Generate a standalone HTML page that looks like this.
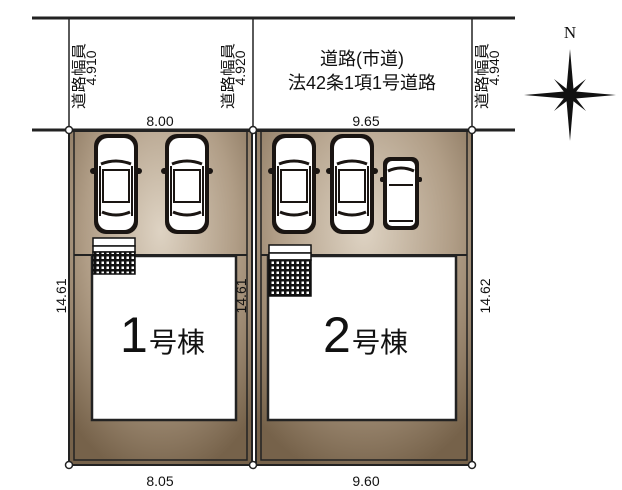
<!DOCTYPE html>
<html><head><meta charset="utf-8"><style>
html,body{margin:0;padding:0;background:#fff;width:622px;height:490px;overflow:hidden}
text{font-family:"Liberation Sans","Noto Sans CJK JP",sans-serif;fill:#111}
</style></head><body>
<svg width="622" height="490" viewBox="0 0 622 490" xmlns="http://www.w3.org/2000/svg">
<defs>
<radialGradient id="g1" cx="50%" cy="30%" r="75%">
<stop offset="0" stop-color="#ded3c3"/><stop offset="0.55" stop-color="#b09d86"/><stop offset="1" stop-color="#76624a"/>
</radialGradient>
<g id="car">
<rect x="0" y="0" width="44" height="100" rx="12" fill="#1a1512"/>
<rect x="-4" y="34" width="52" height="6" rx="3" fill="#1a1512"/>
<rect x="4" y="4" width="36" height="92" rx="10" fill="#fff"/>
<path d="M7 30 Q22 24 37 30" stroke="#1a1512" stroke-width="3" fill="none"/>
<path d="M9 36 L35 36 L35 68 L9 68 Z" stroke="#1a1512" stroke-width="2" fill="#fff"/>
<path d="M8 78 Q22 84 36 78" stroke="#1a1512" stroke-width="3" fill="none"/>
<line x1="6" y1="32" x2="6" y2="82" stroke="#1a1512" stroke-width="2"/>
<line x1="38" y1="32" x2="38" y2="82" stroke="#1a1512" stroke-width="2"/>
</g>
<pattern id="grid" width="5" height="5" patternUnits="userSpaceOnUse">
<rect width="5" height="5" fill="#111"/><rect x="1.5" y="1.5" width="2.5" height="2.5" fill="#fff"/>
</pattern>
</defs>
<line x1="32" y1="18" x2="515" y2="18" stroke="#222" stroke-width="3"/>
<line x1="32" y1="130" x2="515" y2="130" stroke="#222" stroke-width="3"/>
<line x1="69" y1="18" x2="69" y2="130" stroke="#222" stroke-width="1.5"/>
<line x1="253" y1="18" x2="253" y2="130" stroke="#222" stroke-width="1.5"/>
<line x1="472" y1="18" x2="472" y2="130" stroke="#222" stroke-width="1.5"/>
<rect x="69" y="131" width="183" height="334" fill="url(#g1)" stroke="#222" stroke-width="2"/>
<rect x="74" y="131" width="173" height="329" fill="none" stroke="#222" stroke-width="1.5"/>
<rect x="256" y="131" width="216" height="334" fill="url(#g1)" stroke="#222" stroke-width="2"/>
<rect x="261" y="131" width="206" height="329" fill="none" stroke="#222" stroke-width="1.5"/>
<line x1="74" y1="255" x2="247" y2="255" stroke="#222" stroke-width="2"/>
<line x1="261" y1="255" x2="467" y2="255" stroke="#222" stroke-width="2"/>
<rect x="92" y="256" width="144" height="164" fill="#fff" stroke="#222" stroke-width="2.5"/>
<rect x="268" y="256" width="188" height="164" fill="#fff" stroke="#222" stroke-width="2.5"/>
<rect x="93" y="238" width="42" height="8" fill="#fff" stroke="#111" stroke-width="1.5"/>
<rect x="93" y="246" width="42" height="6" fill="#fff" stroke="#111" stroke-width="1.5"/>
<rect x="93" y="252" width="42" height="22" fill="url(#grid)" stroke="#111" stroke-width="1.5"/>
<rect x="269" y="245" width="42" height="8" fill="#fff" stroke="#111" stroke-width="1.5"/>
<rect x="269" y="253" width="42" height="7" fill="#fff" stroke="#111" stroke-width="1.5"/>
<rect x="269" y="260" width="42" height="36" fill="url(#grid)" stroke="#111" stroke-width="1.5"/>
<use href="#car" x="94" y="134"/>
<use href="#car" x="165" y="134"/>
<use href="#car" x="272" y="134"/>
<use href="#car" x="330" y="134"/>
<g transform="translate(383,157)">
<rect x="0" y="0" width="36" height="73" rx="7" fill="#1a1512"/>
<rect x="-3" y="20" width="42" height="5" rx="2" fill="#1a1512"/>
<rect x="4" y="4" width="28" height="65" rx="5" fill="#fff"/>
<path d="M5 14 Q18 8 31 14" stroke="#1a1512" stroke-width="3" fill="none"/>
<line x1="6" y1="28" x2="30" y2="28" stroke="#1a1512" stroke-width="2"/>
<line x1="6" y1="64" x2="30" y2="64" stroke="#1a1512" stroke-width="2"/>
</g>
<g fill="#fff" stroke="#222" stroke-width="1.5">
<circle cx="69" cy="130" r="3.5"/><circle cx="253" cy="130" r="3.5"/><circle cx="472" cy="130" r="3.5"/>
<circle cx="69" cy="465" r="3.5"/><circle cx="253" cy="465" r="3.5"/><circle cx="472" cy="465" r="3.5"/>
</g>
<text x="160" y="126" font-size="14" text-anchor="middle">8.00</text>
<text x="366" y="126" font-size="14" text-anchor="middle">9.65</text>
<text x="160" y="486" font-size="14" text-anchor="middle">8.05</text>
<text x="366" y="486" font-size="14" text-anchor="middle">9.60</text>
<text x="362" y="65" font-size="18" text-anchor="middle">道路(市道)</text>
<text x="362" y="89" font-size="18" text-anchor="middle">法42条1項1号道路</text>
<text transform="translate(66,296) rotate(-90)" font-size="14" text-anchor="middle">14.61</text>
<text transform="translate(246,296) rotate(-90)" font-size="14" text-anchor="middle">14.61</text>
<text transform="translate(490,296) rotate(-90)" font-size="14" text-anchor="middle">14.62</text>
<text transform="translate(84,76) rotate(-90)" font-size="15" text-anchor="middle" textLength="66" lengthAdjust="spacingAndGlyphs">道路幅員</text>
<text transform="translate(96,68) rotate(-90)" font-size="14" text-anchor="middle">4.910</text>
<text transform="translate(233,76) rotate(-90)" font-size="15" text-anchor="middle" textLength="66" lengthAdjust="spacingAndGlyphs">道路幅員</text>
<text transform="translate(245,68) rotate(-90)" font-size="14" text-anchor="middle">4.920</text>
<text transform="translate(487,76) rotate(-90)" font-size="15" text-anchor="middle" textLength="66" lengthAdjust="spacingAndGlyphs">道路幅員</text>
<text x="0" y="0" transform="translate(499,68) rotate(-90)" font-size="14" text-anchor="middle">4.940</text>
<text x="120" y="352" font-size="50">1</text>
<text x="149" y="352" font-size="28">号棟</text>
<text x="323" y="352" font-size="50">2</text>
<text x="352" y="352" font-size="28">号棟</text>
<text x="570" y="38" font-size="17" text-anchor="middle" style="font-family:'Liberation Serif',serif">N</text>
<g transform="translate(570,95)">
<path d="M0 -46 L4 0 L0 46 L-4 0 Z" fill="#111"/>
<path d="M-46 0 L0 -4 L46 0 L0 4 Z" fill="#111"/>
<path d="M-16 -16 L2 -2 L16 16 L-2 2 Z" fill="#111"/>
<path d="M16 -16 L2 2 L-16 16 L-2 -2 Z" fill="#111"/>
</g>
</svg>
</body></html>
